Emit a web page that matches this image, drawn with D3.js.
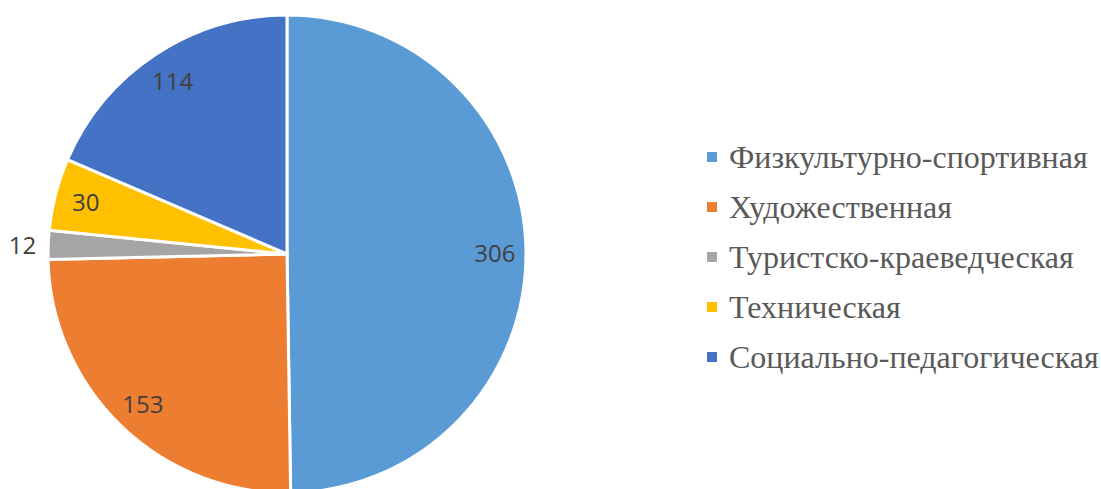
<!DOCTYPE html>
<html><head><meta charset="utf-8">
<script src="https://cdn.jsdelivr.net/npm/d3@7"></script>
<style>body{margin:0;background:#fff}</style>
</head><body>
<svg id="c" width="1101" height="489"></svg>
<script>
const categories = ["Физкультурно-спортивная","Художественная","Туристско-краеведческая","Техническая","Социально-педагогическая"];
const values = [306,153,12,30,114];
const colors = ["#5B9BD5","#ED7D31","#A5A5A5","#FFC000","#4472C4"];

const svg = d3.select("#c");
const cx = 287, cy = 254, R = 239;
const g = svg.append("g").attr("transform",`translate(${cx},${cy})`);
const pie = d3.pie().sort(null).value(d=>d)(values);
const arc = d3.arc().innerRadius(0).outerRadius(R);
g.selectAll("path").data(pie).enter().append("path")
  .attr("d",arc).attr("fill",(d,i)=>colors[i])
  .attr("stroke","#fff").attr("stroke-width",3).attr("stroke-linejoin","round");

const labelArc = d3.arc().innerRadius(R*0.87).outerRadius(R*0.87);
const outArc = d3.arc().innerRadius(R+12).outerRadius(R+12);
g.selectAll("text.lbl").data(pie).enter().append("text")
  .attr("class","lbl")
  .each(function(d){
    const small = (d.endAngle-d.startAngle) < 0.15;
    const p = small ? outArc.centroid(d) : labelArc.centroid(d);
    d3.select(this).attr("x",p[0]).attr("y",p[1])
      .attr("text-anchor", small ? "end" : "middle");
  })
  .attr("dominant-baseline","central")
  .attr("font-family","'Open Sans', sans-serif").attr("font-size",24)
  .attr("fill","#404040").text(d=>d.data);

const leg = svg.append("g").attr("transform","translate(707,157)");
const rows = leg.selectAll("g").data(categories).enter().append("g")
  .attr("transform",(d,i)=>`translate(0,${i*50})`);
rows.append("rect").attr("x",0).attr("y",-5).attr("width",10).attr("height",10)
  .attr("fill",(d,i)=>colors[i]);
rows.append("text").attr("x",22).attr("y",0).attr("dominant-baseline","central")
  .attr("font-family","'Liberation Serif', 'Times New Roman', serif").attr("font-size",32)
  .attr("fill","#595959").text(d=>d);
</script>
</body></html>
